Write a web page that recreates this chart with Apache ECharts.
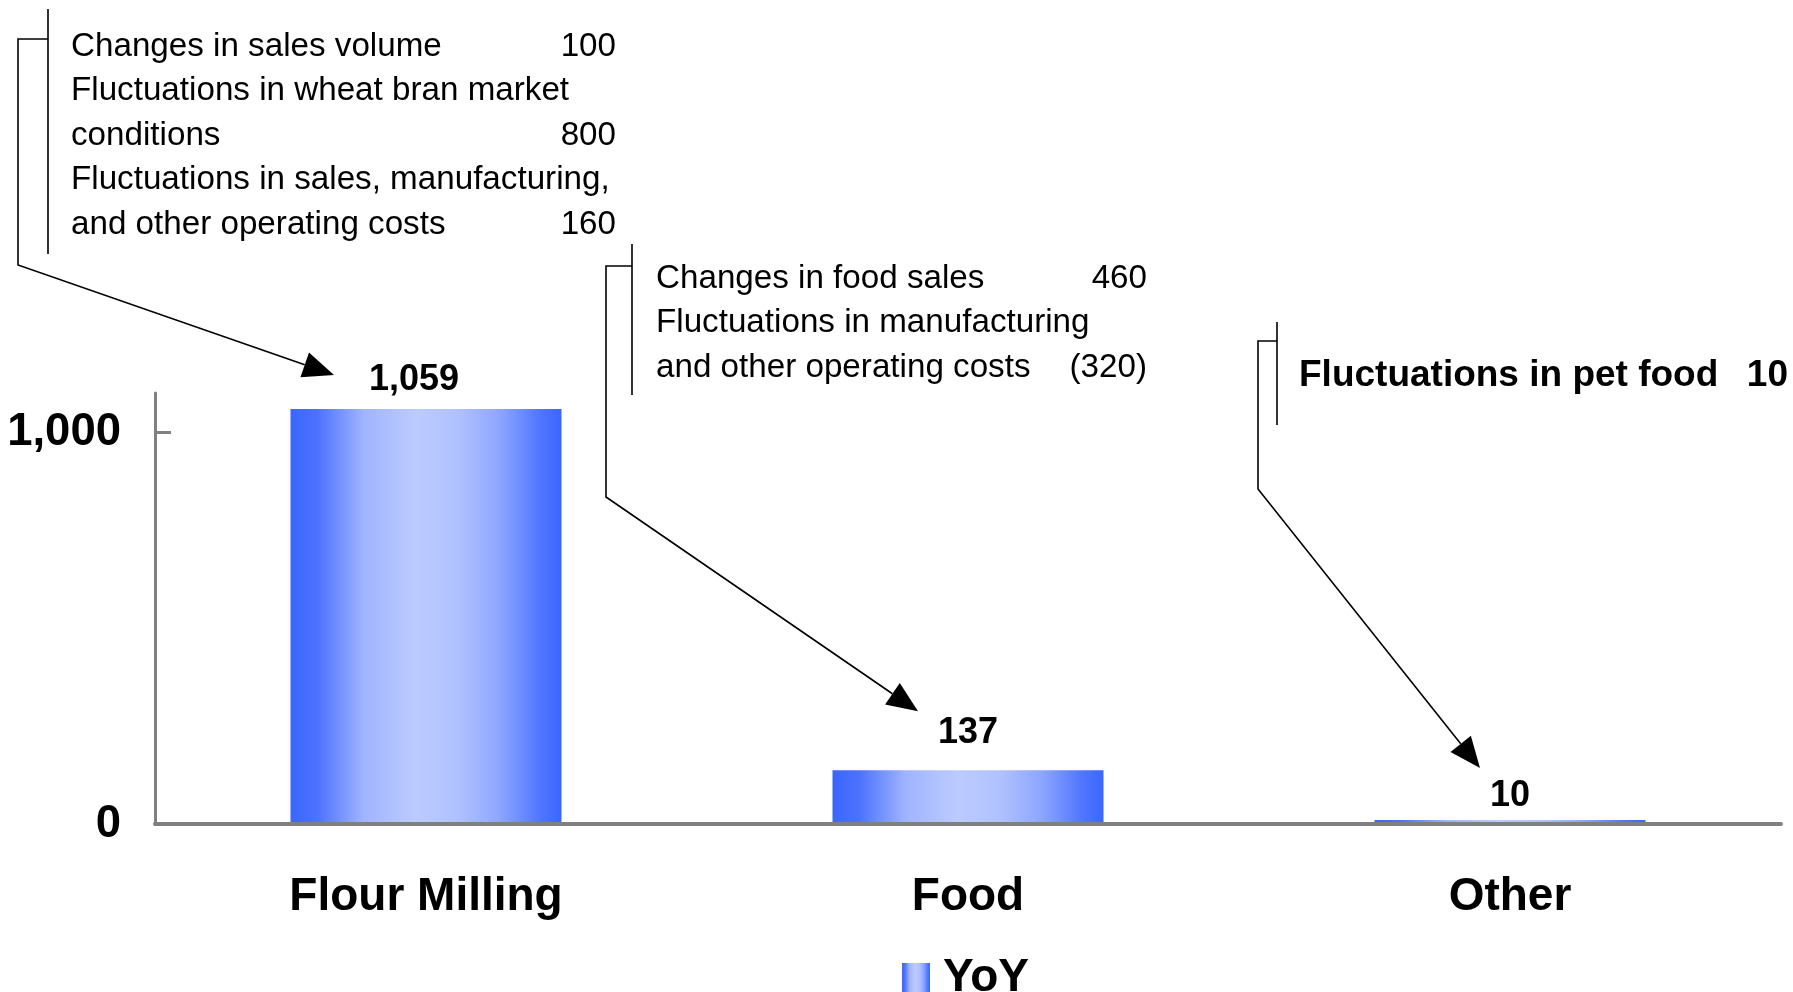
<!DOCTYPE html>
<html>
<head>
<meta charset="utf-8">
<title>YoY by segment</title>
<script src="https://cdn.jsdelivr.net/npm/echarts@6.0.0/dist/echarts.min.js"></script>
<style>
	html, body { margin: 0; padding: 0; background: #fff; }
	#chart { width: 1793px; height: 992px; }
</style>
</head>
<body>
<div id="chart"></div>
<script>
// data
var categories = ['Flour Milling', 'Food', 'Other'];
var yoyValues = [1059, 137, 10];
var yTicks = [0, 1000];
var seriesName = 'YoY';

var flourFactors = ['Changes in sales volume', 'Fluctuations in wheat bran market\nconditions', 'Fluctuations in sales, manufacturing,\nand other operating costs'];
var flourAmounts = [100, 800, 160];
var foodFactors = ['Changes in food sales', 'Fluctuations in manufacturing\nand other operating costs'];
var foodAmounts = [460, -320];
var otherFactors = ['Fluctuations in pet food'];
var otherAmounts = [10];

(function(){

	var FONT = '"Liberation Sans", Arial, sans-serif';

	// layout of the three call-out notes (pixels)
	var notes = [
		{cat: 0, factors: flourFactors, amounts: flourAmounts, bold: false, size: 33.2,
			textX: 71, numX: 616, baseline: 58, lineGap: 44.6,
			bracket: {x: 48, top: 9, bottom: 254, tickY: 39, leftX: 18, elbowY: 265}, tip: [-92, -34]},
		{cat: 1, factors: foodFactors, amounts: foodAmounts, bold: false, size: 33.2,
			textX: 656, numX: 1147, baseline: 290, lineGap: 44.6,
			bracket: {x: 632, top: 244, bottom: 395, tickY: 266, leftX: 606, elbowY: 497}, tip: [-50, -59]},
		{cat: 2, factors: otherFactors, amounts: otherAmounts, bold: true, size: 37,
			textX: 1299, numX: 1788, baseline: 389, lineGap: 44.6,
			bracket: {x: 1277, top: 322, bottom: 425, tickY: 341, leftX: 1258, elbowY: 489}, tip: [-30, -52]}
	];

	var barGradient = new echarts.graphic.LinearGradient(0, 0, 1, 0, [
		{offset: 0, color: '#3a66ff'},
		{offset: 0.1, color: '#4c72ff'},
		{offset: 0.27, color: '#a0b4ff'},
		{offset: 0.46, color: '#bccbff'},
		{offset: 0.62, color: '#b0c1ff'},
		{offset: 0.77, color: '#8ea6ff'},
		{offset: 0.92, color: '#5176ff'},
		{offset: 1, color: '#3a66ff'}
	]);

	var labelDistance = [11, 19, 6];
	var labelShift = [[-12, 0], [0, 0], [0, 0]];

	var chart = echarts.init(document.getElementById('chart'), null, {renderer: 'canvas'});

	var option = {
		animation: false,
		backgroundColor: '#fff',
		grid: {left: 155, right: 12, top: 393, bottom: 168, containLabel: false},
		legend: {
			data: [seriesName],
			left: 902, top: 955, padding: 0,
			icon: 'rect', itemWidth: 28, itemHeight: 30,
			textStyle: {fontFamily: FONT, fontWeight: 'bold', fontSize: 46, color: '#000', padding: [0, 0, 0, 8]}
		},
		xAxis: {
			type: 'category',
			data: categories,
			z: 3,
			axisLine: {show: true, lineStyle: {color: '#808080', width: 4}},
			axisTick: {show: false},
			axisLabel: {fontFamily: FONT, fontWeight: 'bold', fontSize: 46, color: '#000', margin: 50}
		},
		yAxis: {
			type: 'value',
			min: 0, max: 1100, interval: 1000,
			splitLine: {show: false},
			axisLine: {show: true, lineStyle: {color: '#808080', width: 3}},
			axisTick: {show: true, inside: true, length: 16, customValues: yTicks, lineStyle: {color: '#808080', width: 3}},
			axisLabel: {
				customValues: yTicks,
				fontFamily: FONT, fontWeight: 'bold', fontSize: 45.5, color: '#000', margin: 34,
				padding: [13, 0, 0, 0],
				formatter: function(v){ return v.toLocaleString('en-US'); }
			}
		},
		series: [{
			name: seriesName,
			type: 'bar',
			barWidth: '50%',
			itemStyle: {color: barGradient},
			data: yoyValues.map(function(v, i){
				return {value: v, label: {distance: labelDistance[i], offset: labelShift[i]}};
			}),
			label: {
				show: true, position: 'top',
				fontFamily: FONT, fontWeight: 'bold', fontSize: 36, color: '#000',
				formatter: function(p){ return p.value.toLocaleString('en-US'); }
			}
		}]
	};

	chart.setOption(option);

	function fmtAmount(n){
		return n < 0 ? '(' + Math.abs(n) + ')' : String(n);
	}

	function textEl(str, x, baseline, size, bold, align){
		return {
			type: 'text', x: x, y: baseline - 0.3465 * size, silent: true,
			style: {
				text: str, fill: '#000',
				font: (bold ? 'bold ' : '') + size + 'px ' + FONT,
				align: align, verticalAlign: 'middle',
				textAlign: align, textVerticalAlign: 'middle'
			}
		};
	}

	function line(points){
		return {type: 'polyline', silent: true, shape: {points: points}, style: {stroke: '#000', lineWidth: 1.6, fill: null}};
	}

	var elements = [];
	notes.forEach(function(n){
		// text lines with right-aligned amount on the last line of each factor
		var row = 0;
		n.factors.forEach(function(f, i){
			var parts = f.split('\n');
			parts.forEach(function(p, j){
				var y = n.baseline + row * n.lineGap;
				elements.push(textEl(p, n.textX, y, n.size, n.bold, 'left'));
				if (j === parts.length - 1) {
					elements.push(textEl(fmtAmount(n.amounts[i]), n.numX, y, n.size, n.bold, 'right'));
				}
				row++;
			});
		});

		// bracket and leader arrow, tip anchored to the bar it explains
		var b = n.bracket;
		var anchor = chart.convertToPixel({seriesIndex: 0}, [n.cat, yoyValues[n.cat]]);
		var tip = [anchor[0] + n.tip[0], anchor[1] + n.tip[1]];
		var from = [b.leftX, b.elbowY];
		var dx = tip[0] - from[0], dy = tip[1] - from[1];
		var d = Math.sqrt(dx * dx + dy * dy);
		var ux = dx / d, uy = dy / d;
		var len = 31, half = 13;
		var base = [tip[0] - ux * len, tip[1] - uy * len];

		elements.push(line([[b.x, b.top], [b.x, b.bottom]]));
		elements.push(line([[b.x, b.tickY], [b.leftX, b.tickY], [b.leftX, b.elbowY], base]));
		elements.push({
			type: 'polygon', silent: true,
			shape: {points: [tip, [base[0] - uy * half, base[1] + ux * half], [base[0] + uy * half, base[1] - ux * half]]},
			style: {fill: '#000'}
		});
	});

	chart.setOption({graphic: {elements: elements}});

})();
</script>
</body>
</html>
